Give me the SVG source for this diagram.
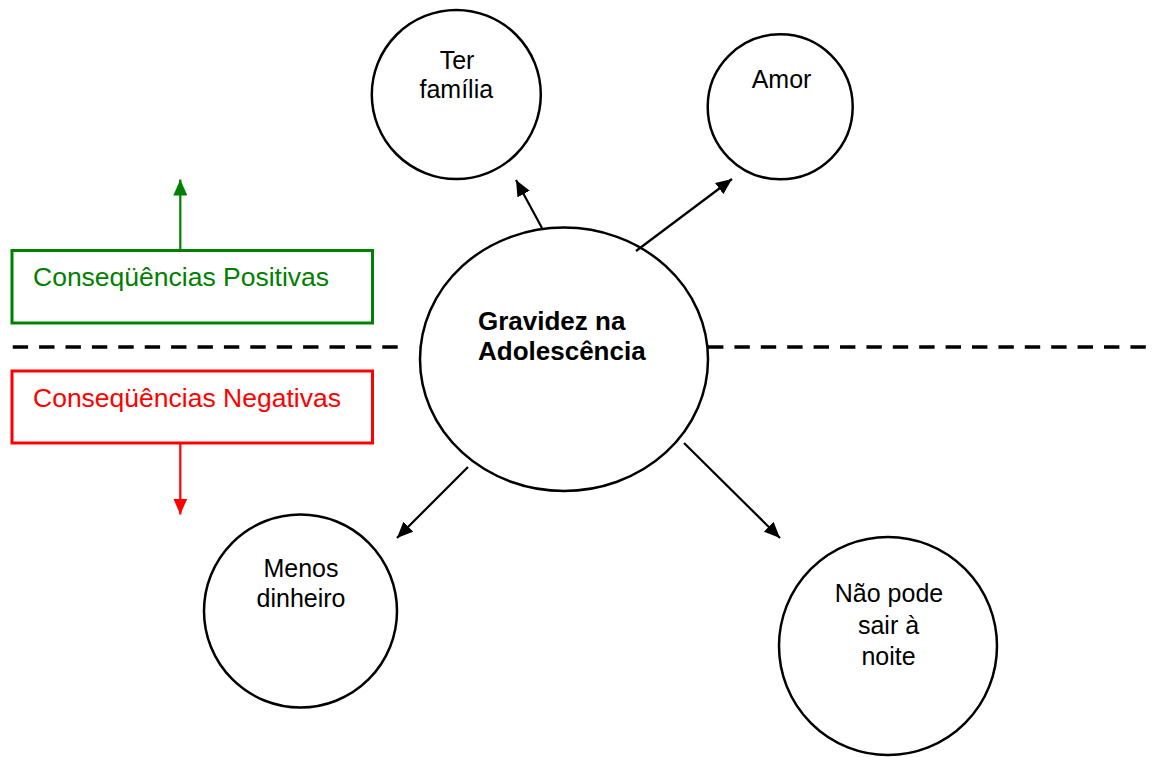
<svg xmlns="http://www.w3.org/2000/svg" width="1157" height="757" viewBox="0 0 1157 757">
<defs>
<style>
.node{fill:#fff;stroke:#000;stroke-width:2.5}
.t{font-family:"Liberation Sans",Arial,sans-serif;font-size:25px;fill:#000;text-anchor:middle}
.b{font-family:"Liberation Sans",Arial,sans-serif;font-size:26px;font-weight:bold;fill:#000}
.lab{font-family:"Liberation Sans",Arial,sans-serif;font-size:26.5px}
.edge{stroke:#000;stroke-width:2.2;fill:none;marker-end:url(#ah)}
.dash{stroke:#000;stroke-width:3.5;stroke-dasharray:15.4 11;fill:none}
</style>
<marker id="ah" markerUnits="userSpaceOnUse" markerWidth="16" markerHeight="14" refX="16" refY="7" orient="auto"><path d="M0,0 L16,7 L0,14 z" fill="#000"/></marker>
<marker id="ahg" markerUnits="userSpaceOnUse" markerWidth="16" markerHeight="14" refX="16" refY="7" orient="auto"><path d="M0,0 L16,7 L0,14 z" fill="#008000"/></marker>
<marker id="ahr" markerUnits="userSpaceOnUse" markerWidth="16" markerHeight="14" refX="16" refY="7" orient="auto"><path d="M0,0 L16,7 L0,14 z" fill="#ff0000"/></marker>
</defs>
<rect width="1157" height="757" fill="#fff"/>
<g id="divider">
<line class="dash" x1="12.7" y1="347" x2="398" y2="347"/>
<line class="dash" x1="708" y1="347" x2="1146" y2="347"/>
</g>
<g id="positivas">
<rect x="12" y="250.5" width="360.5" height="72.5" fill="#fff" stroke="#008000" stroke-width="3"/>
<text class="lab" x="33" y="286" fill="#008000">Conseqüências Positivas</text>
</g>
<g id="negativas">
<rect x="12" y="371" width="360.5" height="72" fill="#fff" stroke="#ff0000" stroke-width="3"/>
<text class="lab" x="33" y="406.5" fill="#ff0000">Conseqüências Negativas</text>
</g>
<g id="center">
<ellipse class="node" cx="564" cy="359.3" rx="144" ry="131.7"/>
<text class="b" x="478" y="329.5">Gravidez na</text>
<text class="b" x="478" y="359.5">Adolescência</text>
</g>
<g id="ter-familia">
<circle class="node" cx="456.3" cy="94.5" r="84.5"/>
<text class="t" x="457" y="69">Ter</text>
<text class="t" x="456.3" y="98">família</text>
</g>
<g id="amor">
<circle class="node" cx="780.2" cy="106.8" r="72.5"/>
<text class="t" x="781.5" y="87.7">Amor</text>
</g>
<g id="menos-dinheiro">
<circle class="node" cx="300.5" cy="611" r="96.5"/>
<text class="t" x="301" y="576.5">Menos</text>
<text class="t" x="301" y="606.5">dinheiro</text>
</g>
<g id="nao-pode">
<circle class="node" cx="888" cy="646" r="109"/>
<text class="t" x="889" y="602">Não pode</text>
<text class="t" x="888.5" y="633.5">sair à</text>
<text class="t" x="888.5" y="665">noite</text>
</g>
<g id="connectors">
<line class="edge" x1="542" y1="228" x2="516" y2="180"/>
<line class="edge" x1="636" y1="251" x2="732" y2="179"/>
<line class="edge" x1="468" y1="467" x2="397" y2="538"/>
<line class="edge" x1="684" y1="443" x2="780" y2="538"/>
<line x1="180.3" y1="250" x2="180.3" y2="179.5" stroke="#008000" stroke-width="2.2" marker-end="url(#ahg)"/>
<line x1="180.3" y1="444" x2="180.3" y2="514.5" stroke="#ff0000" stroke-width="2.2" marker-end="url(#ahr)"/>
</g>
</svg>
